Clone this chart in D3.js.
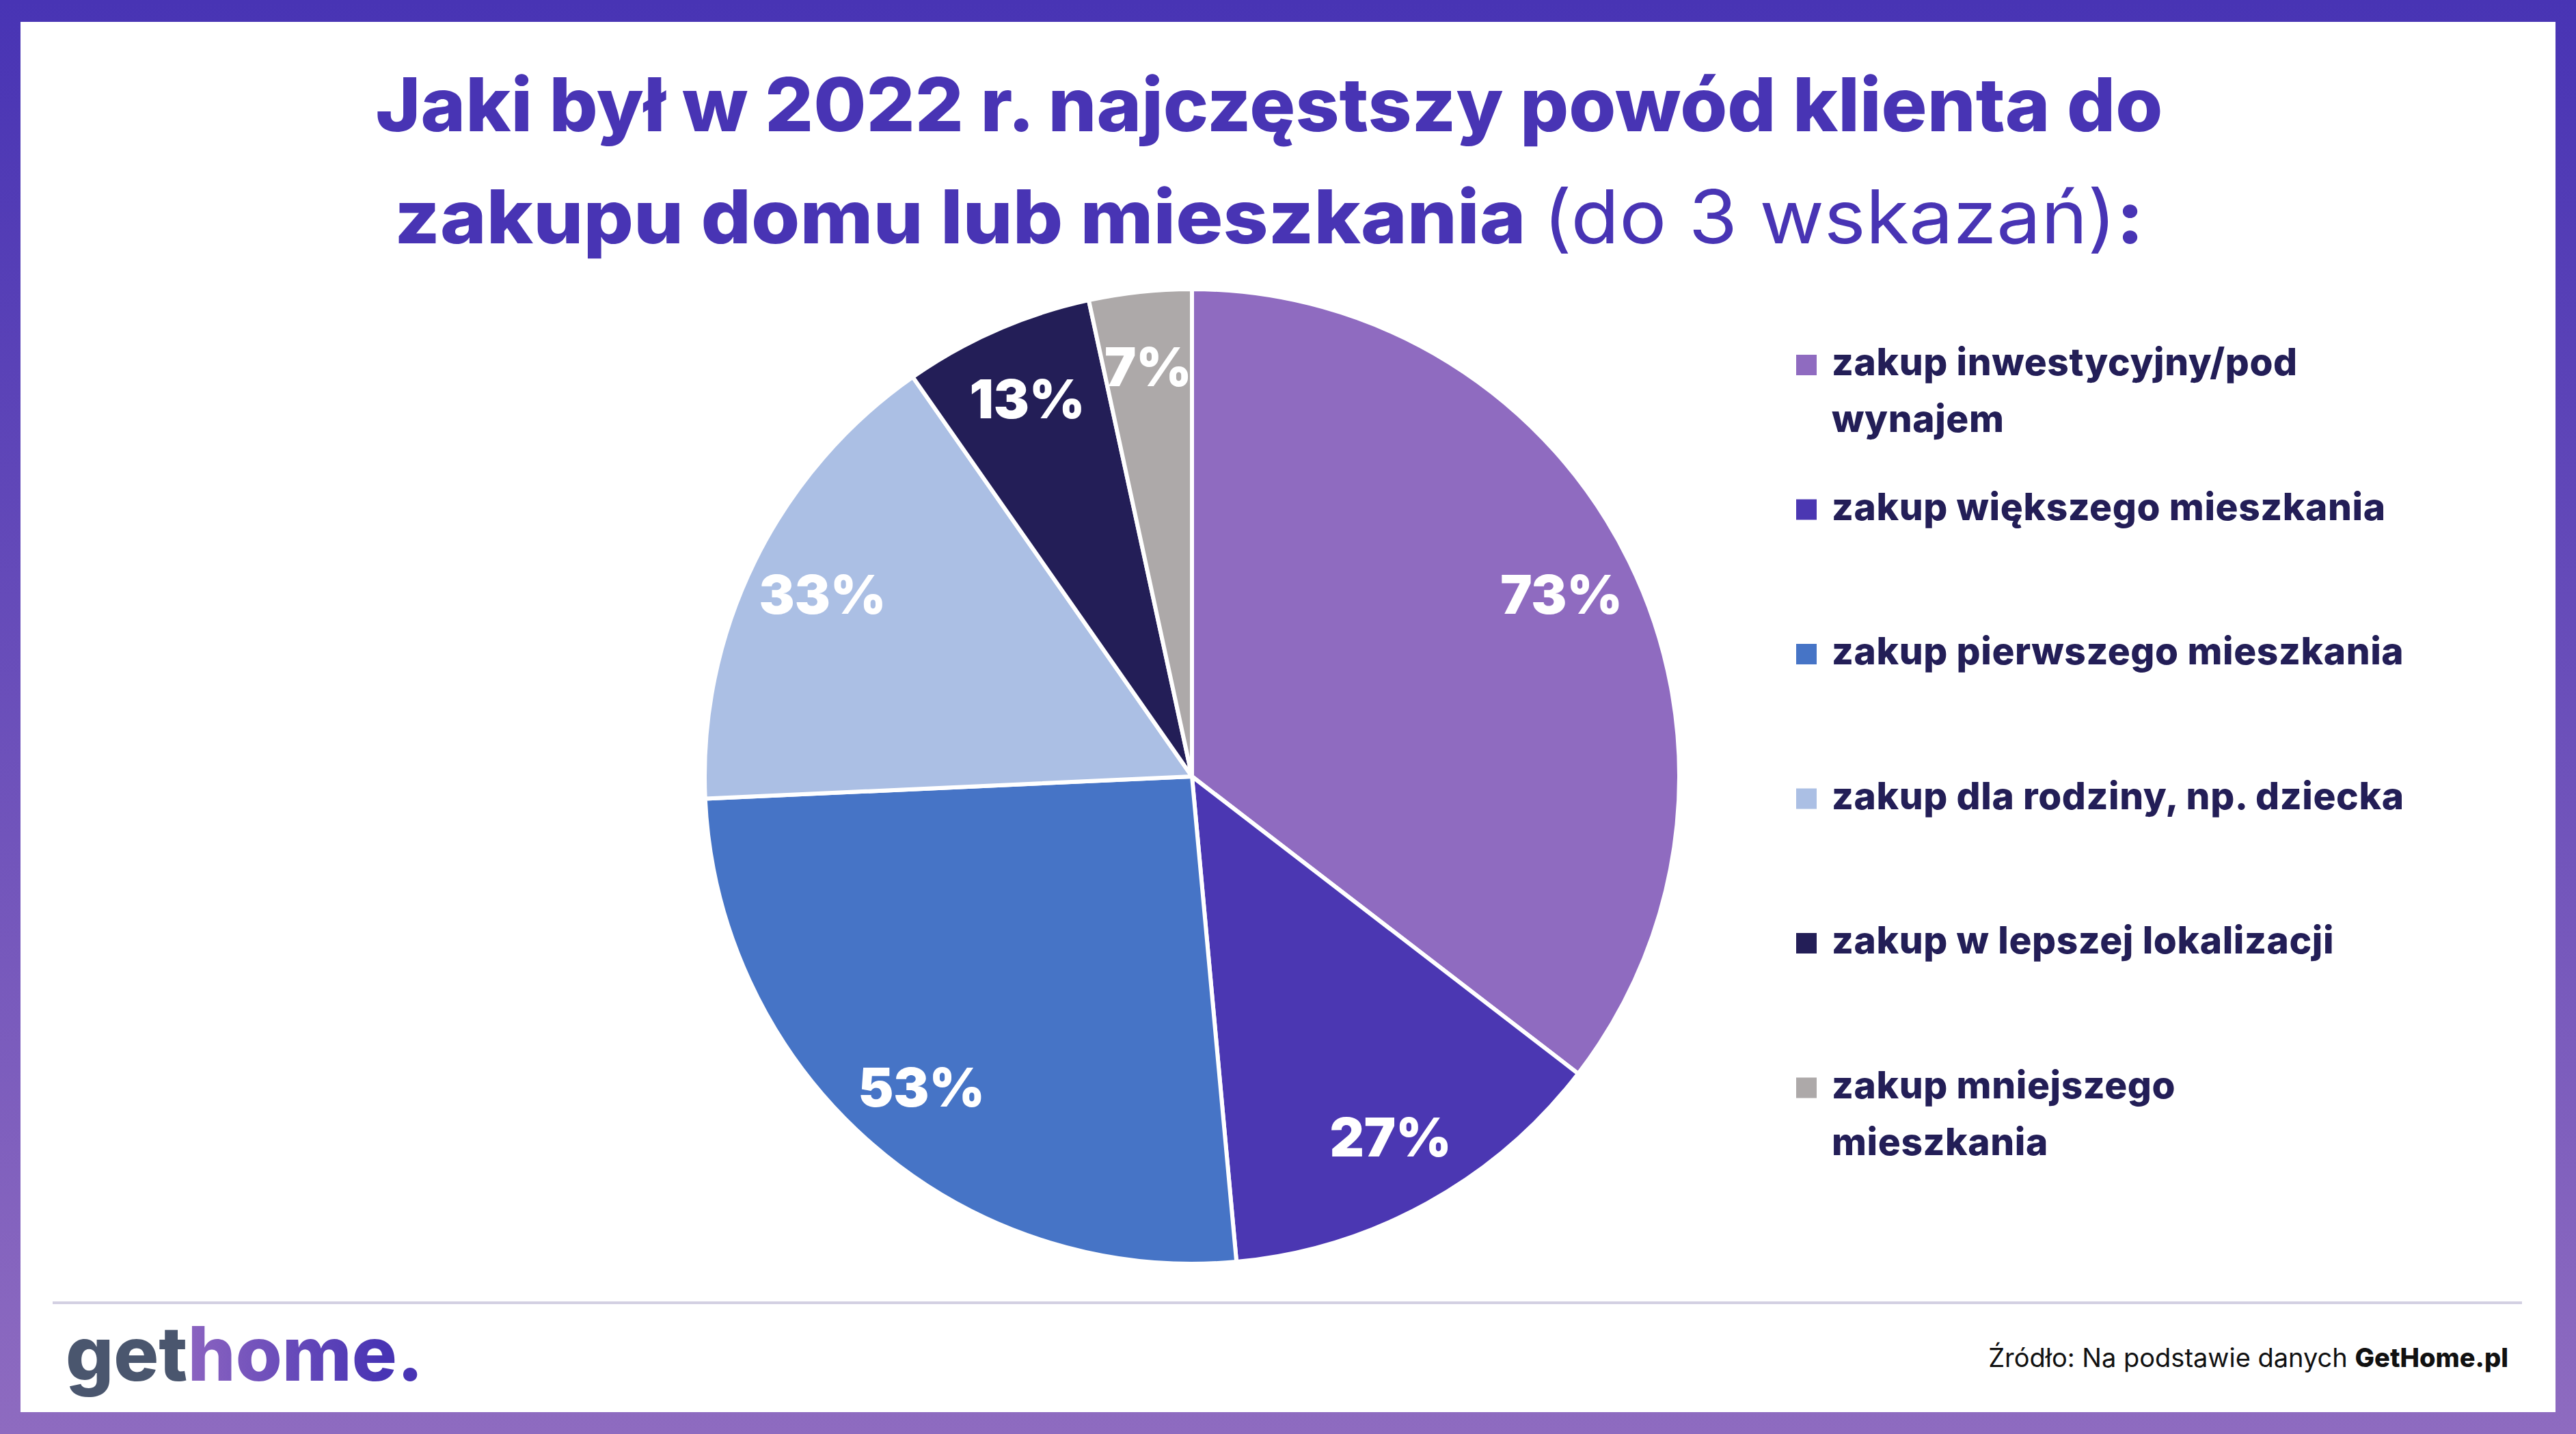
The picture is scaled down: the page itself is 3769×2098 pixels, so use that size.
<!DOCTYPE html>
<html>
<head>
<meta charset="utf-8">
<script src="https://cdn.jsdelivr.net/npm/d3@7"></script>
<style>
  body { margin: 0; background: #fff; }
  svg { display: block; }
  .tytul { font-family: Inter, "Noto Sans", sans-serif; fill: #4834b4; }
  .legenda-tekst { font-family: Inter, "Noto Sans", sans-serif; font-weight: 800; fill: #231e57; }
  .etykieta { font-family: Inter, "Noto Sans", sans-serif; font-weight: 900; fill: #fff; }
  .zrodlo { font-family: Inter, "Noto Sans", sans-serif; fill: #111; }
</style>
</head>
<body>
<div id="okvir"></div>
<script>
// podaci
const kategorije = [
  "zakup inwestycyjny/pod\nwynajem",
  "zakup większego mieszkania",
  "zakup pierwszego mieszkania",
  "zakup dla rodziny, np. dziecka",
  "zakup w lepszej lokalizacji",
  "zakup mniejszego\nmieszkania"
]
const vrijednosti = [73, 27, 53, 33, 13, 7]
const boje = ["#8f6bc0", "#4b37b2", "#4674c6", "#abbfe4", "#231e57", "#ada9a9"]

const naslovRed1 = "Jaki był w 2022 r. najczęstszy powód klienta do"
const naslovRed2 = "zakupu domu lub mieszkania "
const naslovDodatak = "(do 3 wskazań)"
const izvor = "Źródło: Na podstawie danych "
const izvorBold = "GetHome.pl"

function crtaj() {
  const dimenzije = { sirina: 3769, visina: 2098 }

  const okvir = d3.select("#okvir")
    .append("svg")
    .attr("width", dimenzije.sirina)
    .attr("height", dimenzije.visina)

  const defs = okvir.append("defs")
  const rubGrad = defs.append("linearGradient")
    .attr("id", "rub")
    .attr("x1", 0).attr("y1", 0).attr("x2", 0).attr("y2", 1)
  rubGrad.append("stop").attr("offset", "0%").attr("stop-color", "#4834b4")
  rubGrad.append("stop").attr("offset", "100%").attr("stop-color", "#8e6bc0")

  const logoGrad = defs.append("linearGradient")
    .attr("id", "logo-grad")
    .attr("gradientUnits", "userSpaceOnUse")
    .attr("x1", 280).attr("x2", 560).attr("y1", 0).attr("y2", 0)
  logoGrad.append("stop").attr("offset", "0%").attr("stop-color", "#8a63c0")
  logoGrad.append("stop").attr("offset", "100%").attr("stop-color", "#4834b4")

  // okvir
  okvir.append("rect")
    .attr("width", dimenzije.sirina)
    .attr("height", dimenzije.visina)
    .attr("fill", "url(#rub)")
  okvir.append("rect")
    .attr("x", 30).attr("y", 32)
    .attr("width", 3709).attr("height", 2034)
    .attr("fill", "#fff")

  // naslov
  const t1 = okvir.append("text")
    .attr("class", "tytul")
    .attr("x", 1857).attr("y", 192)
    .attr("text-anchor", "middle")
    .style("font-size", "108px")
    .style("font-weight", 800)
    .text(naslovRed1)

  const t2 = okvir.append("text")
    .attr("class", "tytul")
    .attr("x", 1857).attr("y", 356)
    .attr("text-anchor", "middle")
    .style("font-size", "108px")
  t2.append("tspan").style("font-weight", 800).text(naslovRed2)
  t2.append("tspan").style("font-weight", 400).text(naslovDodatak)
  t2.append("tspan").style("font-weight", 800).text(":")

  // sirine naslova prema referenci
  t1.attr("textLength", 2615).attr("lengthAdjust", "spacingAndGlyphs")
  t2.attr("textLength", 2560).attr("lengthAdjust", "spacingAndGlyphs")

  // pita
  const centar = [1744, 1136]
  const radijus = 713

  const pitaGenerator = d3.pie().sort(null).value(d => d)
  const lukovi = pitaGenerator(vrijednosti)

  const lukGenerator = d3.arc().innerRadius(0).outerRadius(radijus)
  const lukEtiketa = d3.arc().innerRadius(radijus * 0.845).outerRadius(radijus * 0.845)

  const pita = okvir.append("g")
    .attr("transform", `translate(${centar[0]}, ${centar[1]})`)

  pita.selectAll(".krisku")
    .data(lukovi)
    .enter().append("path")
      .attr("class", "krisku")
      .attr("d", lukGenerator)
      .attr("fill", (d, i) => boje[i])
      .attr("stroke", "#fff")
      .attr("stroke-width", 6)
      .attr("stroke-linejoin", "round")

  pita.selectAll(".etykieta")
    .data(lukovi)
    .enter().append("text")
      .attr("class", "etykieta")
      .attr("transform", d => `translate(${lukEtiketa.centroid(d)})`)
      .attr("text-anchor", "middle")
      .attr("dominant-baseline", "central")
      .style("font-size", "78px")
      .text(d => `${d.data}%`)

  // legenda
  const legendaX = 2628
  const legendaY = 549
  const legendaKorak = 211.5
  const kvadrat = 30

  const legenda = okvir.append("g")
  const stavke = legenda.selectAll(".stavka")
    .data(kategorije)
    .enter().append("g")
      .attr("class", "stavka")
      .attr("transform", (d, i) => `translate(${legendaX}, ${legendaY + i * legendaKorak})`)

  stavke.append("rect")
    .attr("x", 0).attr("y", -kvadrat)
    .attr("width", kvadrat).attr("height", kvadrat)
    .attr("fill", (d, i) => boje[i])

  stavke.append("text")
    .attr("class", "legenda-tekst")
    .style("font-size", "55px")
    .style("letter-spacing", "0.6px")
    .selectAll("tspan")
    .data(d => d.split("\n"))
    .enter().append("tspan")
      .attr("x", 52)
      .attr("y", (d, i) => i * 83)
      .text(d => d)

  // linija i podnozje
  okvir.append("line")
    .attr("x1", 77).attr("x2", 3690)
    .attr("y1", 1906).attr("y2", 1906)
    .attr("stroke", "#d3d0e2")
    .attr("stroke-width", 4)

  const logo = okvir.append("text")
    .attr("x", 96).attr("y", 2020)
    .style("font-family", "Inter, 'Noto Sans', sans-serif")
    .style("font-weight", 800)
    .style("font-size", "110px")
  logo.append("tspan").attr("fill", "#4a566e").text("get")
  logo.append("tspan").attr("fill", "url(#logo-grad)").text("home")
  logo.append("tspan").attr("fill", "#4834b4").text(".")

  const zrodlo = okvir.append("text")
    .attr("class", "zrodlo")
    .attr("x", 3670).attr("y", 2000)
    .attr("text-anchor", "end")
    .style("font-size", "38px")
  zrodlo.append("tspan").style("font-weight", 400).text(izvor)
  zrodlo.append("tspan").style("font-weight", 800).text(izvorBold)
}
crtaj()
</script>
</body>
</html>
